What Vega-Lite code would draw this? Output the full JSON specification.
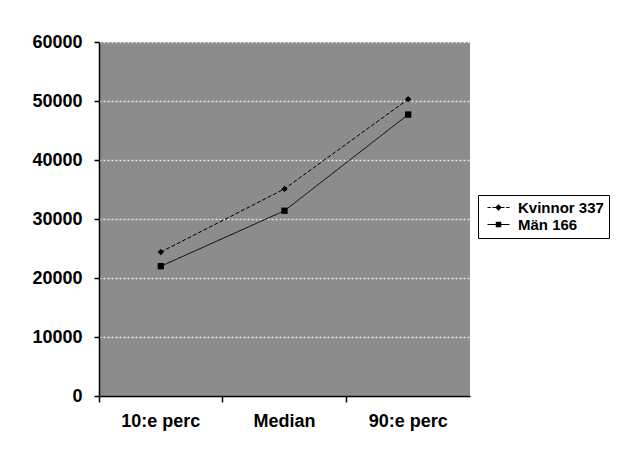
{
  "$schema": "https://vega.github.io/schema/vega-lite/v6.json",
  "width": 371,
  "height": 354,
  "autosize": {"type": "none"},
  "padding": {"left": 99, "top": 42, "right": 171, "bottom": 53},
  "background": "white",
  "config": {
    "font": "Liberation Sans",
    "view": {"fill": "#8c8c8c", "stroke": null}
  },
  "data": {
    "values": [
      {"stat": "10:e perc", "serie": "Kvinnor 337", "lon": 24400},
      {"stat": "Median", "serie": "Kvinnor 337", "lon": 35100},
      {"stat": "90:e perc", "serie": "Kvinnor 337", "lon": 50300},
      {"stat": "10:e perc", "serie": "Män 166", "lon": 22000},
      {"stat": "Median", "serie": "Män 166", "lon": 31400},
      {"stat": "90:e perc", "serie": "Män 166", "lon": 47700}
    ]
  },
  "layer": [
    {
      "mark": {"type": "line", "color": "black", "strokeWidth": 1},
      "encoding": {
        "x": {
          "field": "stat", "type": "nominal", "sort": ["10:e perc", "Median", "90:e perc"],
          "bandPosition": 0.5,
          "scale": {"type": "band", "paddingInner": 0, "paddingOuter": 0},
          "axis": {"orient": "bottom", "title": null, "labels": false, "grid": false, "bandPosition": 0, "ticks": true, "tickSize": 6, "tickColor": "black", "tickWidth": 1.5, "domain": true, "domainColor": "black", "domainWidth": 1.5}
        },
        "y": {
          "field": "lon", "type": "quantitative",
          "scale": {"domain": [0, 60000], "nice": false, "zero": true},
          "axis": {"title": null, "values": [0, 10000, 20000, 30000, 40000, 50000, 60000], "format": "d", "grid": true, "gridColor": "#e6e6e6", "gridDash": [2, 2], "gridWidth": 1.5, "domain": true, "domainColor": "black", "domainWidth": 1.5, "ticks": true, "tickColor": "black", "tickSize": 5, "tickWidth": 1.5, "labelPadding": 12, "labelFontSize": 18, "labelFontWeight": "bold", "labelColor": "black"}
        },
        "detail": {"field": "serie"},
        "strokeDash": {"field": "serie", "type": "nominal", "scale": {"domain": ["Kvinnor 337", "Män 166"], "range": [[4, 2], [1, 0]]}, "legend": null}
      }
    },
    {
      "mark": {"type": "point", "filled": true, "color": "black", "opacity": 1, "size": 40},
      "encoding": {
        "x": {
          "field": "stat", "type": "nominal", "sort": ["10:e perc", "Median", "90:e perc"],
          "bandPosition": 0.5,
          "axis": {"orient": "bottom", "title": null, "ticks": false, "domain": false, "grid": false, "labelPadding": 16, "labelFontSize": 18, "labelFontWeight": "bold", "labelColor": "black", "labelAngle": 0}
        },
        "y": {"field": "lon", "type": "quantitative"},
        "shape": {"field": "serie", "type": "nominal", "scale": {"domain": ["Kvinnor 337", "Män 166"], "range": ["diamond", "square"]}, "legend": null}
      }
    },
    {
      "mark": {"type": "point", "filled": true, "color": "black", "opacity": 0},
      "encoding": {
        "x": {"field": "stat", "type": "nominal", "sort": ["10:e perc", "Median", "90:e perc"], "bandPosition": 0.5, "axis": null},
        "y": {"field": "lon", "type": "quantitative"},
        "shape": {
          "field": "serie", "type": "nominal",
          "scale": {"domain": ["Kvinnor 337", "Män 166"], "range": [
            "M-2,-0.1H-1.4V0.1H-2ZM-1.1,-0.1H-0.5V0.1H-1.1ZM0.5,-0.1H1.1V0.1H0.5ZM1.4,-0.1H2V0.1H1.4ZM0,-0.6L0.6,0L0,0.6L-0.6,0Z",
            "M-2,-0.1H2V0.1H-2ZM-0.5,-0.5H0.5V0.5H-0.5Z"
          ]},
          "legend": {
            "title": null, "orient": "none", "legendX": 379, "legendY": 153,
            "strokeColor": "black", "fillColor": "white", "padding": 5,
            "labelFontSize": 15, "labelFontWeight": "bold", "labelColor": "black",
            "symbolSize": 121, "symbolFillColor": "black", "symbolOpacity": 1, "symbolOffset": 8, "labelOffset": 12, "rowPadding": 1
          }
        }
      }
    }
  ],
  "resolve": {"scale": {"shape": "independent"}, "legend": {"shape": "independent"}, "axis": {"x": "independent"}}
}
